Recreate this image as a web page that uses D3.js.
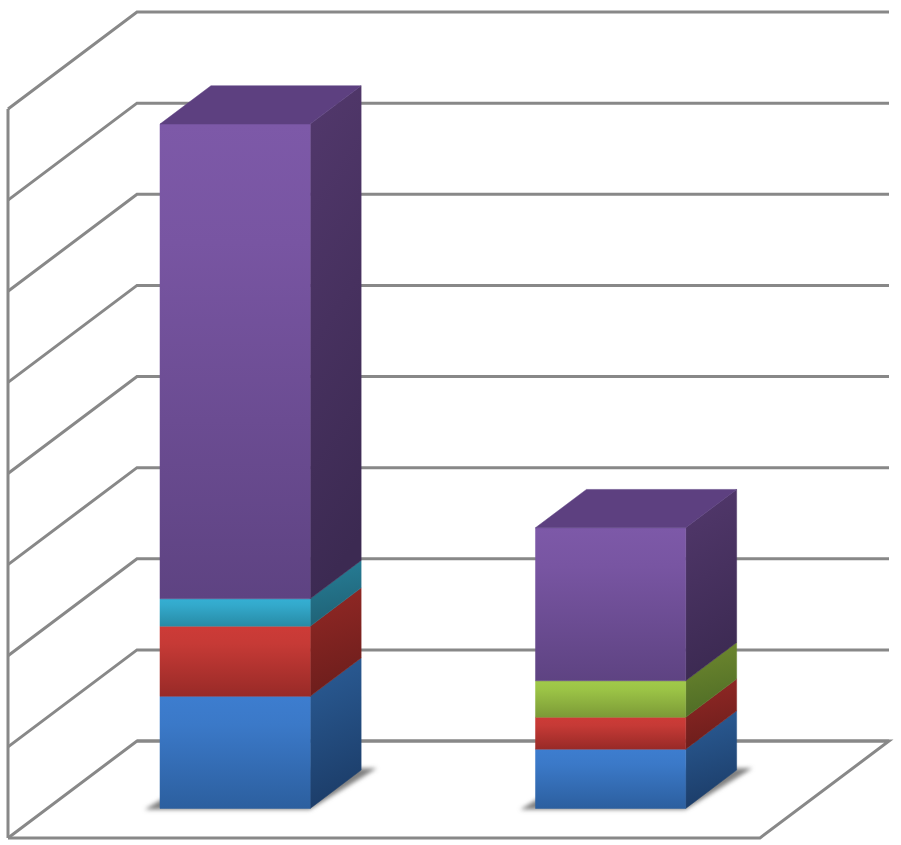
<!DOCTYPE html>
<html>
<head>
<meta charset="utf-8">
<style>
  html, body { margin: 0; padding: 0; background: #fff; }
  svg { display: block; }
</style>
<script src="https://cdn.jsdelivr.net/npm/d3@7"></script>
</head>
<body>
<div id="chart"></div>
<script>
// values, in grid units (the chart has no labels)
const categories = ["A", "B"];
const seriesNames = ["blue", "red", "green", "teal", "purple"];
const blue = [1.23, 0.65];
const red = [0.77, 0.35];
const green = [0, 0.40];
const teal = [0.30, 0];
const purple = [5.21, 1.68];
const gridTicks = [0, 1, 2, 3, 4, 5, 6, 7, 8];

const seriesValues = { blue, red, green, teal, purple };

// front face, top -> bottom; side face, top -> bottom
const frontColors = {
  blue: ["#3d7dcf", "#3b79c8", "#2c5f9f"],
  red: ["#cd3b37", "#c63a36", "#982a27"],
  green: ["#a1ca4a", "#9bc346", "#7c9a37"],
  teal: ["#35afd3", "#33a9cb", "#288ba6"],
  purple: ["#7d59a8", "#7855a2", "#5e4382"]
};
const sideColors = {
  blue: ["#2b5d97", "#1c3d69"],
  red: ["#932825", "#6d1e1c"],
  green: ["#70892f", "#4f6d26"],
  teal: ["#277f98", "#1f6276"],
  purple: ["#52386c", "#3c2a52"]
};
const topColor = "#5d4080";
const gridColor = "#888888";

const width = 901, height = 845;

// oblique projection: depth 0 is the front edge of the floor, 1 the back wall
const depthX = 129, depthY = -97;
const floorLeft = 8, floorRight = 760;
const x = d3.scaleBand().domain(categories).range([floorLeft, 759])
  .paddingInner(0.6).paddingOuter(0.3);
const y = d3.scaleLinear().domain([0, 8]).range([838, 109]);
const barDepth = [0.305, 0.70];

function pt(px, depth, v) {
  return [px + depth * depthX, y(v) + depth * depthY];
}

const line = d3.line();

const svg = d3.select("#chart").append("svg")
  .attr("width", width)
  .attr("height", height);
const defs = svg.append("defs");

defs.append("filter")
  .attr("id", "shadowBlur")
  .attr("x", "-20%").attr("y", "-20%")
  .attr("width", "140%").attr("height", "140%")
  .append("feGaussianBlur")
  .attr("stdDeviation", 2);

seriesNames.forEach(name => {
  const f = defs.append("linearGradient").attr("id", "front-" + name)
    .attr("x1", 0).attr("y1", 0).attr("x2", 0).attr("y2", 1);
  frontColors[name].forEach((c, i) => {
    f.append("stop").attr("offset", [0, 0.25, 1][i]).attr("stop-color", c);
  });
  const s = defs.append("linearGradient").attr("id", "side-" + name)
    .attr("x1", 0).attr("y1", 0).attr("x2", 0.15).attr("y2", 1);
  sideColors[name].forEach((c, i) => {
    s.append("stop").attr("offset", i).attr("stop-color", c);
  });
});

// walls and floor
const grid = svg.append("g")
  .attr("fill", "none")
  .attr("stroke", gridColor)
  .attr("stroke-width", 3)
  .attr("stroke-linejoin", "miter");

grid.selectAll("path.tick")
  .data(gridTicks)
  .join("path")
  .attr("class", "tick")
  .attr("d", v => line([pt(floorLeft, 0, v), pt(floorLeft, 1, v), pt(floorRight, 1, v)]));

grid.append("path").attr("d", line([pt(floorLeft, 0, 0), pt(floorLeft, 0, 8)]));
grid.append("path").attr("d", line([pt(floorLeft, 0, 0), pt(floorRight, 0, 0), pt(floorRight, 1, 0), pt(floorLeft, 1, 0)]));

// stacked bars
const table = categories.map((c, i) => {
  const row = { category: c };
  seriesNames.forEach(n => { row[n] = seriesValues[n][i]; });
  return row;
});
const stacked = d3.stack().keys(seriesNames)(table);

svg.append("g").selectAll("g")
  .data(categories)
  .join("g")
  .each(function (c, i) {
    const g = d3.select(this);
    const x0 = x(c), x1 = x(c) + x.bandwidth();
    const [d0, d1] = barDepth;

    // soft shadow on the floor, wedges show left of the front and right of the side
    g.append("path")
      .attr("d", line([
        pt(x0 - 14, d0 - 0.01, 0), pt(x1 + 1, d0 - 0.01, 0),
        pt(x1 + 13, d1 + 0.02, 0), pt(x0, d1 + 0.02, 0)
      ]) + "Z")
      .attr("fill", "#808080")
      .attr("filter", "url(#shadowBlur)");

    stacked.forEach(layer => {
      const [v0, v1] = layer[i];
      if (v1 - v0 <= 0) return;
      g.append("path")
        .attr("d", line([pt(x1, d0, v1), pt(x1, d1, v1), pt(x1, d1, v0), pt(x1, d0, v0)]) + "Z")
        .attr("fill", `url(#side-${layer.key})`)
        .attr("stroke", `url(#side-${layer.key})`)
        .attr("stroke-width", 0.5);
      g.append("path")
        .attr("d", line([pt(x0, d0, v1), pt(x1, d0, v1), pt(x1, d0, v0), pt(x0, d0, v0)]) + "Z")
        .attr("fill", `url(#front-${layer.key})`)
        .attr("stroke", `url(#front-${layer.key})`)
        .attr("stroke-width", 0.5);
    });

    const total = stacked[stacked.length - 1][i][1];
    g.append("path")
      .attr("d", line([pt(x0, d0, total), pt(x0, d1, total), pt(x1, d1, total), pt(x1, d0, total)]) + "Z")
      .attr("fill", topColor)
      .attr("stroke", topColor)
      .attr("stroke-width", 0.5);
  });
</script>
</body>
</html>
